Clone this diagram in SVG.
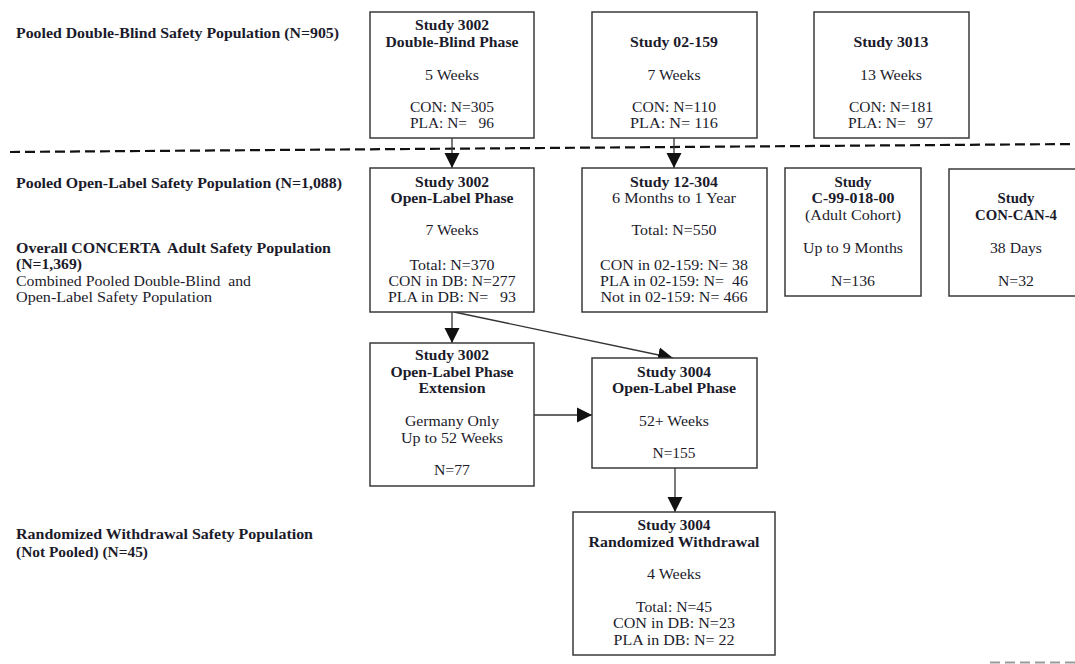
<svg xmlns="http://www.w3.org/2000/svg" width="1075" height="664" viewBox="0 0 1075 664">
  <defs>
    <style>
      text { font-family: "Liberation Serif", "Times New Roman", serif; fill: #1b1b2b; white-space: pre; }
      .t { font-size: 14.5px; font-weight: bold; text-anchor: middle; }
      .r { font-size: 14.5px; text-anchor: middle; }
      .lb { font-size: 14.5px; font-weight: bold; }
      .lr { font-size: 14.5px; }
      .box { fill: #ffffff; stroke: #3a3a3a; stroke-width: 1.5; }
      .wire { fill: none; stroke: #333333; stroke-width: 1.3; }
    </style>
    <marker id="head" markerUnits="userSpaceOnUse" markerWidth="16" markerHeight="16" viewBox="0 0 16 16" refX="15" refY="8" orient="auto">
      <path d="M0,0.5 L15,8 L0,15.5 Z" fill="#111111"/>
    </marker>
  </defs>
  <rect width="1075" height="664" fill="#ffffff"/>

  <!-- population labels on the left -->
  <g id="labels">
    <text class="lb" x="16" y="38" textLength="323" lengthAdjust="spacingAndGlyphs">Pooled Double-Blind Safety Population (N=905)</text>
    <text class="lb" x="16" y="188" textLength="326" lengthAdjust="spacingAndGlyphs">Pooled Open-Label Safety Population (N=1,088)</text>
    <text class="lb" x="16" y="253" textLength="315" lengthAdjust="spacingAndGlyphs">Overall CONCERTA  Adult Safety Population</text>
    <text class="lb" x="16" y="269" textLength="66" lengthAdjust="spacingAndGlyphs">(N=1,369)</text>
    <text class="lr" x="16" y="286" textLength="235" lengthAdjust="spacingAndGlyphs">Combined Pooled Double-Blind  and</text>
    <text class="lr" x="16" y="302" textLength="196" lengthAdjust="spacingAndGlyphs">Open-Label Safety Population</text>
    <text class="lb" x="16" y="539" textLength="297" lengthAdjust="spacingAndGlyphs">Randomized Withdrawal Safety Population</text>
    <text class="lb" x="16" y="557" textLength="132" lengthAdjust="spacingAndGlyphs">(Not Pooled) (N=45)</text>
  </g>

  <!-- separator between double-blind and open-label pools -->
  <line x1="10" y1="152" x2="1075" y2="144" stroke="#111111" stroke-width="2.2" stroke-dasharray="10 5"/>
  <line x1="990" y1="662.5" x2="1075" y2="662.5" stroke="#9a9a9a" stroke-width="2" stroke-dasharray="10 5"/>

  <!-- connectors -->
  <g id="connectors">
    <line class="wire" x1="452" y1="138" x2="452" y2="168" marker-end="url(#head)"/>
    <line class="wire" x1="674" y1="138" x2="674" y2="168" marker-end="url(#head)"/>
    <line class="wire" x1="452" y1="312" x2="452" y2="343" marker-end="url(#head)"/>
    <line class="wire" x1="454" y1="312" x2="673" y2="358" marker-end="url(#head)"/>
    <line class="wire" x1="534" y1="415" x2="592" y2="415" marker-end="url(#head)"/>
    <line class="wire" x1="675" y1="468" x2="675" y2="512" marker-end="url(#head)"/>
  </g>

  <g id="study-3002-db">
    <rect class="box" x="370" y="12" width="164" height="126"/>
    <text class="t" x="452" y="30" textLength="74" lengthAdjust="spacingAndGlyphs">Study 3002</text>
    <text class="t" x="452" y="47" textLength="133" lengthAdjust="spacingAndGlyphs">Double-Blind Phase</text>
    <text class="r" x="452" y="80" textLength="54" lengthAdjust="spacingAndGlyphs">5 Weeks</text>
    <text class="r" x="452" y="112" textLength="84" lengthAdjust="spacingAndGlyphs">CON: N=305</text>
    <text class="r" x="452" y="128" textLength="84" lengthAdjust="spacingAndGlyphs">PLA: N=   96</text>
  </g>

  <g id="study-02-159">
    <rect class="box" x="592" y="12" width="165" height="126"/>
    <text class="t" x="674" y="47" textLength="88" lengthAdjust="spacingAndGlyphs">Study 02-159</text>
    <text class="r" x="674" y="80" textLength="53" lengthAdjust="spacingAndGlyphs">7 Weeks</text>
    <text class="r" x="674" y="112" textLength="84" lengthAdjust="spacingAndGlyphs">CON: N=110</text>
    <text class="r" x="674" y="128" textLength="88" lengthAdjust="spacingAndGlyphs">PLA: N= 116</text>
  </g>

  <g id="study-3013">
    <rect class="box" x="814" y="12" width="155" height="126"/>
    <text class="t" x="891" y="47" textLength="75" lengthAdjust="spacingAndGlyphs">Study 3013</text>
    <text class="r" x="891" y="80" textLength="62" lengthAdjust="spacingAndGlyphs">13 Weeks</text>
    <text class="r" x="891" y="112" textLength="84" lengthAdjust="spacingAndGlyphs">CON: N=181</text>
    <text class="r" x="890.5" y="128" textLength="85" lengthAdjust="spacingAndGlyphs">PLA: N=   97</text>
  </g>

  <g id="study-3002-ol">
    <rect class="box" x="370" y="168" width="164" height="144"/>
    <text class="t" x="452" y="187" textLength="74" lengthAdjust="spacingAndGlyphs">Study 3002</text>
    <text class="t" x="452" y="203" textLength="123" lengthAdjust="spacingAndGlyphs">Open-Label Phase</text>
    <text class="r" x="452" y="235" textLength="53" lengthAdjust="spacingAndGlyphs">7 Weeks</text>
    <text class="r" x="452" y="270" textLength="85" lengthAdjust="spacingAndGlyphs">Total: N=370</text>
    <text class="r" x="452" y="286" textLength="127" lengthAdjust="spacingAndGlyphs">CON in DB: N=277</text>
    <text class="r" x="452" y="302" textLength="128" lengthAdjust="spacingAndGlyphs">PLA in DB: N=   93</text>
  </g>

  <g id="study-12-304">
    <rect class="box" x="582" y="168" width="185" height="144"/>
    <text class="t" x="674" y="187" textLength="88" lengthAdjust="spacingAndGlyphs">Study 12-304</text>
    <text class="r" x="674" y="203" textLength="124" lengthAdjust="spacingAndGlyphs">6 Months to 1 Year</text>
    <text class="r" x="674" y="235" textLength="85" lengthAdjust="spacingAndGlyphs">Total: N=550</text>
    <text class="r" x="674" y="270" textLength="148" lengthAdjust="spacingAndGlyphs">CON in 02-159: N= 38</text>
    <text class="r" x="674" y="286" textLength="148" lengthAdjust="spacingAndGlyphs">PLA in 02-159: N=  46</text>
    <text class="r" x="674" y="302" textLength="147" lengthAdjust="spacingAndGlyphs">Not in 02-159: N= 466</text>
  </g>

  <g id="study-c-99-018-00">
    <rect class="box" x="785" y="168" width="136" height="128"/>
    <text class="t" x="853" y="187" textLength="37" lengthAdjust="spacingAndGlyphs">Study</text>
    <text class="t" x="853" y="203" textLength="83" lengthAdjust="spacingAndGlyphs">C-99-018-00</text>
    <text class="r" x="853" y="220" textLength="96" lengthAdjust="spacingAndGlyphs">(Adult Cohort)</text>
    <text class="r" x="853" y="253" textLength="100" lengthAdjust="spacingAndGlyphs">Up to 9 Months</text>
    <text class="r" x="853" y="286" textLength="44" lengthAdjust="spacingAndGlyphs">N=136</text>
  </g>

  <g id="study-con-can-4">
    <rect class="box" x="949" y="169" width="134" height="127"/>
    <text class="t" x="1016" y="203" textLength="37" lengthAdjust="spacingAndGlyphs">Study</text>
    <text class="t" x="1016" y="220" textLength="82" lengthAdjust="spacingAndGlyphs">CON-CAN-4</text>
    <text class="r" x="1016" y="253" textLength="52" lengthAdjust="spacingAndGlyphs">38 Days</text>
    <text class="r" x="1016" y="286" textLength="36" lengthAdjust="spacingAndGlyphs">N=32</text>
  </g>

  <g id="study-3002-ext">
    <rect class="box" x="370" y="343" width="164" height="143"/>
    <text class="t" x="452" y="360" textLength="74" lengthAdjust="spacingAndGlyphs">Study 3002</text>
    <text class="t" x="452" y="377" textLength="123" lengthAdjust="spacingAndGlyphs">Open-Label Phase</text>
    <text class="t" x="452" y="393" textLength="67" lengthAdjust="spacingAndGlyphs">Extension</text>
    <text class="r" x="452" y="426" textLength="94" lengthAdjust="spacingAndGlyphs">Germany Only</text>
    <text class="r" x="452" y="443" textLength="102" lengthAdjust="spacingAndGlyphs">Up to 52 Weeks</text>
    <text class="r" x="452" y="475" textLength="36" lengthAdjust="spacingAndGlyphs">N=77</text>
  </g>

  <g id="study-3004-ol">
    <rect class="box" x="592" y="358" width="165" height="110"/>
    <text class="t" x="674" y="377" textLength="74" lengthAdjust="spacingAndGlyphs">Study 3004</text>
    <text class="t" x="674" y="393" textLength="124" lengthAdjust="spacingAndGlyphs">Open-Label Phase</text>
    <text class="r" x="674" y="426" textLength="70" lengthAdjust="spacingAndGlyphs">52+ Weeks</text>
    <text class="r" x="674" y="458" textLength="43" lengthAdjust="spacingAndGlyphs">N=155</text>
  </g>

  <g id="study-3004-rw">
    <rect class="box" x="573" y="512" width="202" height="143"/>
    <text class="t" x="674" y="530" textLength="73" lengthAdjust="spacingAndGlyphs">Study 3004</text>
    <text class="t" x="674" y="547" textLength="171" lengthAdjust="spacingAndGlyphs">Randomized Withdrawal</text>
    <text class="r" x="674" y="579" textLength="54" lengthAdjust="spacingAndGlyphs">4 Weeks</text>
    <text class="r" x="674" y="612" textLength="76" lengthAdjust="spacingAndGlyphs">Total: N=45</text>
    <text class="r" x="674" y="628" textLength="122" lengthAdjust="spacingAndGlyphs">CON in DB: N=23</text>
    <text class="r" x="674" y="645" textLength="121" lengthAdjust="spacingAndGlyphs">PLA in DB: N= 22</text>
  </g>
</svg>
